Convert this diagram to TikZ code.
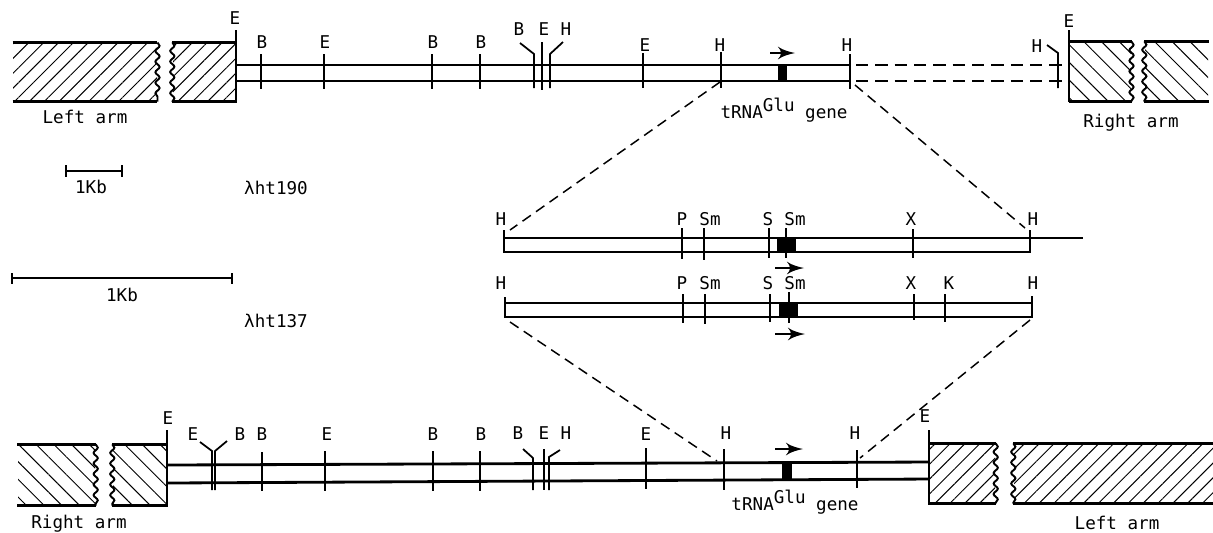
\documentclass[tikz,border=0pt]{standalone}
\usepackage{fontspec}
\setmainfont{DejaVu Sans Mono}
\usetikzlibrary{arrows,patterns.meta,decorations.pathmorphing}
\tikzset{
	sitelabel/.style={inner sep=0pt,font=\fontsize{5}{6}\selectfont},
	tick/.style={line width=.5pt},
	endtick/.style={line width=.8pt},
	strand/.style={line width=.8pt},
	hatchleft/.style={inner sep=0pt,pattern={Lines[angle=45,distance=1.05mm,line width=.28pt]}},
	hatchright/.style={inner sep=0pt,pattern={Lines[angle=-45,distance=1.25mm,line width=.28pt]}},
	armedge/.style={line width=.7pt},
	wavyedge/.style={line width=.55pt,decorate,decoration={snake,amplitude=.6pt,segment length=3pt}},
	genebox/.style={fill=black,inner sep=0pt},
	zoomline/.style={line width=.42pt,dash pattern=on 2.9pt off 1.8pt},
	dashstrand/.style={line width=.8pt,dash pattern=on 3.5pt off 2pt},
	genearrow/.style={->,>=latex',line width=.7pt}
}
% one restriction site: name, label, label x, label y, x, tick top, tick bottom
\newcommand{\site}[7]{
	\node[sitelabel] (#1) at (#3,#4) {#2};
	\coordinate (#1t) at (#5,#6);
	\coordinate (#1b) at (#5,#7);
	\draw[tick] (#1t) -- (#1b);
}
% hatched block: name, hatch, x left, x right, y top, y bottom
\newcommand{\armblock}[6]{
	\node[#2,minimum width={(#4-#3)*.01cm},minimum height={(#6-#5)*.01cm}] (#1) at ({(#3+#4)/2},{(#5+#6)/2}) {};
	\draw[armedge] (#1.north west) -- (#1.north east);
	\draw[armedge] (#1.south west) -- (#1.south east);
}
\begin{document}
\begin{tikzpicture}[x=.01cm,y=-.01cm]
	\useasboundingbox (0,0) rectangle (1213,532);

	% upper phage
	\armblock{lefta}{hatchleft}{13}{157}{43}{101}
	\armblock{leftb}{hatchleft}{173}{236}{43}{101}
	\draw[wavyedge] (lefta.north east) -- (lefta.south east);
	\draw[wavyedge] (leftb.north west) -- (leftb.south west);
	\armblock{righta}{hatchright}{1069}{1131}{42}{101}
	\armblock{rightb}{hatchright}{1145}{1208}{42}{101}
	\draw[wavyedge] (righta.north east) -- (righta.south east);
	\draw[wavyedge] (rightb.north west) -- (rightb.south west);

	\foreach \name/\lab/\lx/\ly/\px/\pt/\pb in {
		ua/E/235/18/236/30/102,
		ub/B/262/42/261/54/89,
		uc/E/325/42/324/54/89,
		ud/B/433/42/432/54/89,
		ue/B/481/42/480/54/89,
		uf/E/544/29/542/42/90,
		ug/E/645/45/643/53/88,
		uh/H/720/45/721/52/88,
		ui/H/847/45/850/54/89,
		uj/E/1069/21/1069/30/102}
		{\site{\name}{\lab}{\lx}{\ly}{\px}{\pt}{\pb}}

	\node[sitelabel] (ubl) at (519,29) {B};
	\node[sitelabel] (uhl) at (566,29) {H};
	\node[sitelabel] (uhr) at (1037,46) {H};
	\coordinate (ubla) at (520,43);
	\coordinate (ublb) at (534,54);
	\coordinate (ublc) at (534,88);
	\coordinate (uhla) at (563,42);
	\coordinate (uhlb) at (550,54);
	\coordinate (uhlc) at (550,88);
	\coordinate (uhra) at (1047,45);
	\coordinate (uhrb) at (1058,53);
	\coordinate (uhrc) at (1058,88);
	\draw[tick] (ubla) -- (ublb) -- (ublc);
	\draw[tick] (uhla) -- (uhlb) -- (uhlc);
	\draw[tick] (uhra) -- (uhrb) -- (uhrc);

	\coordinate (uat) at (236,65);
	\coordinate (uab) at (236,81);
	\coordinate (uit) at (850,65);
	\coordinate (uib) at (850,81);
	\coordinate (udt) at (856,65);
	\coordinate (udb) at (856,81);
	\coordinate (ujt) at (1069,65);
	\coordinate (ujb) at (1069,81);
	\draw[strand] (uat) -- (uit);
	\draw[strand] (uab) -- (uib);
	\draw[dashstrand] (udt) -- (ujt);
	\draw[dashstrand] (udb) -- (ujb);

	\node[genebox,minimum width=.09cm,minimum height=.16cm] (ugene) at (782.5,73) {};
	\coordinate (uarra) at (770,53);
	\coordinate (uarrb) at (795,53);
	\draw[genearrow] (uarra) -- (uarrb);
	\node[sitelabel] (utrna) at (784,110) {tRNA\raisebox{.7ex}{Glu} gene};
	\node[sitelabel] (uleft) at (85,117) {Left arm};
	\node[sitelabel] (uright) at (1131,123) {Right arm};

	% scale bars
	\coordinate (sca) at (66,171);
	\coordinate (scb) at (122,171);
	\coordinate (scat) at (66,165);
	\coordinate (scab) at (66,177);
	\coordinate (scbt) at (122,165);
	\coordinate (scbb) at (122,177);
	\draw[tick] (sca) -- (scb);
	\draw[tick] (scat) -- (scab);
	\draw[tick] (scbt) -- (scbb);
	\node[sitelabel] (scl) at (91,187) {1Kb};
	\coordinate (sda) at (12,278);
	\coordinate (sdb) at (232,278);
	\coordinate (sdat) at (12,273);
	\coordinate (sdab) at (12,284);
	\coordinate (sdbt) at (232,273);
	\coordinate (sdbb) at (232,284);
	\draw[tick] (sda) -- (sdb);
	\draw[tick] (sdat) -- (sdab);
	\draw[endtick] (sdbt) -- (sdbb);
	\node[sitelabel] (sdl) at (122,295) {1Kb};
	\node[sitelabel] (ht190) at (276,188) {λht190};
	\node[sitelabel] (ht137) at (276,321) {λht137};

	% middle maps
	\foreach \name/\lab/\lx/\ly/\px/\pt/\pb in {
		ma/H/501/219/504/230/253,
		mb/P/682/219/682/228/259,
		mc/Sm/710/219/704/228/260,
		md/S/768/219/769/228/258,
		me/Sm/795/219/786/228/258,
		mf/X/911/219/913/229/258,
		mg/H/1033/219/1030/230/253,
		na/H/501/283/505/297/318,
		nb/P/682/283/683/294/323,
		nc/Sm/710/283/705/294/324,
		nd/S/768/283/770/294/322,
		ne/Sm/795/283/789/292/323,
		nf/X/911/283/914/294/320,
		ng/K/949/283/945/294/322,
		nh/H/1033/283/1032/296/318}
		{\site{\name}{\lab}{\lx}{\ly}{\px}{\pt}{\pb}}

	\coordinate (mat) at (504,238);
	\coordinate (mab) at (504,252);
	\coordinate (mgt) at (1030,238);
	\coordinate (mgb) at (1030,252);
	\coordinate (mex) at (1083,238);
	\draw[strand] (mat) -- (mgt);
	\draw[strand] (mab) -- (mgb);
	\draw[tick] (mgt) -- (mex);
	\coordinate (nat) at (505,303);
	\coordinate (nab) at (505,317);
	\coordinate (nht) at (1032,303);
	\coordinate (nhb) at (1032,317);
	\draw[strand] (nat) -- (nht);
	\draw[strand] (nab) -- (nhb);
	\node[genebox,minimum width=.19cm,minimum height=.14cm] (mgene) at (786.5,245) {};
	\node[genebox,minimum width=.19cm,minimum height=.14cm] (ngene) at (788.5,310) {};
	\coordinate (marra) at (775,268);
	\coordinate (marrb) at (804,268);
	\coordinate (narra) at (775,334);
	\coordinate (narrb) at (805,334);
	\draw[genearrow] (marra) -- (marrb);
	\draw[genearrow] (narra) -- (narrb);

	% lower phage
	\armblock{righte}{hatchright}{18}{95}{445}{505}
	\armblock{rightf}{hatchright}{113}{167}{445}{505}
	\draw[wavyedge] (righte.north east) -- (righte.south east);
	\draw[wavyedge] (rightf.north west) -- (rightf.south west);
	\armblock{lefte}{hatchleft}{929}{995}{444}{503}
	\armblock{leftf}{hatchleft}{1014}{1213}{444}{503}
	\draw[wavyedge] (lefte.north east) -- (lefte.south east);
	\draw[wavyedge] (leftf.north west) -- (leftf.south west);

	\foreach \name/\lab/\lx/\ly/\px/\pt/\pb in {
		la/E/168/418/167/430/505,
		lb/B/262/434/262/452/491,
		lc/E/327/434/325/451/491,
		ld/B/433/434/433/451/491,
		le/B/481/434/480/451/491,
		lf/E/544/433/544/449/490,
		lg/E/646/434/646/448/489,
		lh/H/726/433/724/449/490,
		li/H/855/433/857/450/488,
		lj/E/925/416/929/430/504}
		{\site{\name}{\lab}{\lx}{\ly}{\px}{\pt}{\pb}}

	\node[sitelabel] (lel) at (193,434) {E};
	\node[sitelabel] (lbl) at (240,434) {B};
	\node[sitelabel] (lbc) at (518,433) {B};
	\node[sitelabel] (lhc) at (566,433) {H};
	\coordinate (lela) at (200,442);
	\coordinate (lelb) at (212,451);
	\coordinate (lelc) at (212,490);
	\coordinate (lbla) at (227,441);
	\coordinate (lblb) at (215,451);
	\coordinate (lblc) at (215,490);
	\coordinate (lbca) at (523,449);
	\coordinate (lbcb) at (533,458);
	\coordinate (lbcc) at (533,490);
	\coordinate (lhca) at (560,450);
	\coordinate (lhcb) at (549,457);
	\coordinate (lhcc) at (549,490);
	\draw[tick] (lela) -- (lelb) -- (lelc);
	\draw[tick] (lbla) -- (lblb) -- (lblc);
	\draw[tick] (lbca) -- (lbcb) -- (lbcc);
	\draw[tick] (lhca) -- (lhcb) -- (lhcc);

	\coordinate (lat) at (167,465);
	\coordinate (lab) at (167,483);
	\coordinate (ljt) at (929,462);
	\coordinate (ljb) at (929,479);
	\draw[strand] (lat) -- (ljt);
	\draw[strand] (lab) -- (ljb);

	% heavier ends of the inserts
	\foreach \name in {ua,uj,ma,mg,na,nh,la,lj}
		\draw[endtick] (\name t) -- (\name b);

	\node[genebox,minimum width=.1cm,minimum height=.16cm] (lgene) at (787,471) {};
	\coordinate (larra) at (775,449);
	\coordinate (larrb) at (803,449);
	\draw[genearrow] (larra) -- (larrb);
	\node[sitelabel] (ltrna) at (795,502) {tRNA\raisebox{.7ex}{Glu} gene};
	\node[sitelabel] (lright) at (79,524) {Right arm};
	\node[sitelabel] (lleft) at (1117,523) {Left arm};

	% zoom lines between maps
	\coordinate (za) at (720,82);
	\coordinate (zb) at (510,230);
	\coordinate (zc) at (855,85);
	\coordinate (zd) at (1025,228);
	\coordinate (ze) at (510,322);
	\coordinate (zf) at (717,461);
	\coordinate (zg) at (1030,320);
	\coordinate (zh) at (860,458);
	\draw[zoomline] (za) -- (zb);
	\draw[zoomline] (zc) -- (zd);
	\draw[zoomline] (ze) -- (zf);
	\draw[zoomline] (zg) -- (zh);
\end{tikzpicture}
\end{document}
